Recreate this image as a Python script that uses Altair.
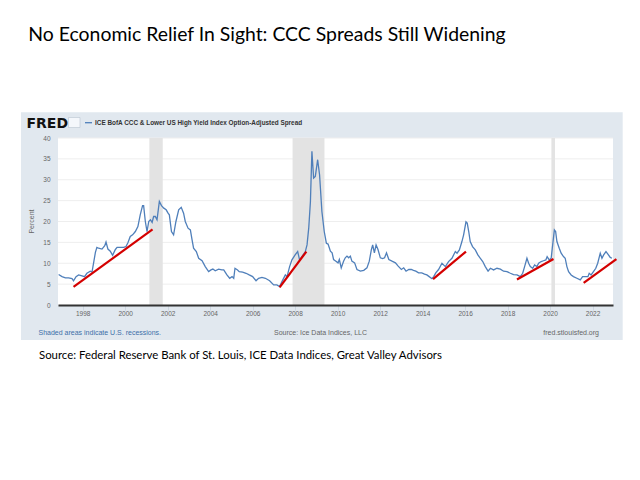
import altair as alt
import pandas as pd

# ---- data (decimal year, percent) ----
years = [1996.87, 1997.03, 1997.19, 1997.34, 1997.50, 1997.57, 1997.69, 1997.81, 1997.97, 1998.09,
         1998.20, 1998.36, 1998.44, 1998.52, 1998.60, 1998.67, 1998.75, 1998.91, 1999.04, 1999.10,
         1999.19, 1999.30, 1999.41, 1999.54, 1999.62, 1999.77, 1999.93, 2000.04, 2000.13, 2000.24,
         2000.35, 2000.48, 2000.60, 2000.71, 2000.82, 2000.87, 2000.95, 2001.03, 2001.11, 2001.19,
         2001.27, 2001.34, 2001.42, 2001.50, 2001.61, 2001.71, 2001.82, 2001.93, 2002.02, 2002.08,
         2002.18, 2002.28, 2002.39, 2002.52, 2002.64, 2002.75, 2002.83, 2002.96, 2003.07, 2003.15,
         2003.22, 2003.35, 2003.46, 2003.62, 2003.77, 2003.93, 2004.04, 2004.13, 2004.24, 2004.40,
         2004.55, 2004.64, 2004.79, 2004.92, 2005.03, 2005.11, 2005.17, 2005.29, 2005.37, 2005.53,
         2005.69, 2005.84, 2006.00, 2006.16, 2006.28, 2006.44, 2006.60, 2006.80, 2006.99, 2007.14,
         2007.27, 2007.38, 2007.54, 2007.62, 2007.74, 2007.85, 2008.00, 2008.12, 2008.21, 2008.32,
         2008.48, 2008.56, 2008.64, 2008.72, 2008.79, 2008.87, 2008.95, 2009.06, 2009.15, 2009.26,
         2009.37, 2009.47, 2009.55, 2009.66, 2009.74, 2009.81, 2009.92, 2010.02, 2010.08, 2010.17,
         2010.28, 2010.36, 2010.44, 2010.52, 2010.60, 2010.67, 2010.80, 2010.91, 2011.07, 2011.23,
         2011.38, 2011.49, 2011.59, 2011.65, 2011.73, 2011.81, 2011.90, 2012.01, 2012.12, 2012.21,
         2012.30, 2012.41, 2012.56, 2012.72, 2012.85, 2013.00, 2013.11, 2013.22, 2013.35, 2013.47,
         2013.57, 2013.68, 2013.81, 2013.96, 2014.09, 2014.20, 2014.31, 2014.44, 2014.52, 2014.62,
         2014.75, 2014.91, 2015.07, 2015.22, 2015.38, 2015.54, 2015.62, 2015.73, 2015.85, 2015.93,
         2016.04, 2016.10, 2016.17, 2016.24, 2016.35, 2016.48, 2016.60, 2016.71, 2016.83, 2016.95,
         2017.08, 2017.19, 2017.34, 2017.50, 2017.66, 2017.81, 2017.97, 2018.13, 2018.28, 2018.44,
         2018.60, 2018.71, 2018.80, 2018.91, 2018.99, 2019.07, 2019.18, 2019.27, 2019.38, 2019.46,
         2019.58, 2019.69, 2019.80, 2019.86, 2019.96, 2020.05, 2020.20, 2020.26, 2020.32, 2020.43,
         2020.52, 2020.63, 2020.71, 2020.79, 2020.87, 2020.99, 2021.10, 2021.26, 2021.42, 2021.53,
         2021.65, 2021.78, 2021.84, 2021.93, 2022.04, 2022.15, 2022.24, 2022.36, 2022.44, 2022.52,
         2022.63, 2022.72, 2022.83, 2022.91]
spread = [7.3, 6.8, 6.5, 6.5, 6.3, 5.8, 6.8, 7.2, 7.0, 6.8,
          7.6, 8.1, 7.9, 10.2, 12.6, 13.8, 13.6, 13.4, 14.2, 15.1,
          13.4, 12.9, 11.9, 13.3, 13.8, 13.8, 13.8, 14.0, 14.9, 16.4,
          16.8, 17.6, 18.8, 21.6, 23.8, 23.8, 20.0, 17.6, 20.0, 20.4,
          19.8, 21.2, 21.2, 20.4, 24.8, 23.8, 23.2, 22.8, 22.0, 21.6,
          17.6, 16.8, 20.0, 22.8, 23.4, 22.0, 20.0, 18.4, 18.0, 15.6,
          13.6, 12.8, 11.2, 10.6, 9.2, 8.0, 8.4, 8.6, 8.2, 8.6,
          8.4, 8.4, 7.2, 6.4, 6.8, 6.4, 8.8, 8.4, 8.0, 7.9,
          7.6, 7.2, 6.8, 5.8, 6.4, 6.6, 6.4, 5.8, 4.8, 4.8,
          4.4, 5.6, 7.2, 6.8, 9.2, 10.8, 12.0, 12.8, 10.8, 11.6,
          12.8, 14.4, 18.4, 24.8, 36.8, 30.4, 30.8, 34.8, 31.2, 22.4,
          17.6, 14.8, 14.6, 12.9, 12.5, 10.9, 10.5, 10.1, 10.9, 8.9,
          10.5, 11.3, 11.7, 11.3, 11.7, 10.5, 10.1, 8.5, 8.1, 8.3,
          8.9, 10.5, 13.3, 14.4, 12.5, 14.4, 13.3, 11.3, 11.1, 11.3,
          12.5, 10.9, 10.5, 10.1, 9.3, 8.5, 8.9, 8.1, 8.5, 8.5,
          8.3, 8.1, 7.7, 7.7, 7.4, 7.2, 6.8, 6.3, 6.8, 7.7,
          8.5, 10.0, 9.2, 10.4, 11.2, 12.8, 12.4, 13.2, 15.2, 16.8,
          19.9, 19.6, 17.6, 15.2, 14.0, 13.2, 12.0, 11.2, 10.4, 9.2,
          8.1, 8.8, 8.4, 8.8, 8.6, 8.1, 8.0, 7.6, 7.3, 7.2,
          6.8, 7.6, 9.2, 11.2, 10.0, 9.2, 8.8, 9.6, 9.2, 10.0,
          10.4, 10.6, 10.8, 11.6, 10.8, 11.2, 18.0, 17.6, 15.2, 13.6,
          12.4, 11.6, 11.2, 9.2, 8.0, 7.2, 6.8, 6.4, 6.0, 6.8,
          6.8, 6.8, 7.6, 7.2, 8.0, 8.8, 10.0, 12.4, 11.2, 12.0,
          12.8, 12.2, 11.4, 11.2]

recession_start = [2001.14, 2007.88, 2020.06]
recession_end = [2001.77, 2009.38, 2020.23]

trend_id = [1, 1, 2, 2, 3, 3, 4, 4, 5, 5]
trend_year = [1997.57, 2001.29, 2007.27, 2008.53, 2014.49, 2016.04, 2018.44, 2020.16, 2021.58, 2023.12]
trend_value = [4.35, 18.1, 4.2, 12.8, 6.2, 12.8, 6.1, 11.0, 5.3, 11.0]

x_ticks = [1998, 2000, 2002, 2004, 2006, 2008, 2010, 2012, 2014, 2016, 2018, 2020, 2022]
y_ticks = [0, 5, 10, 15, 20, 25, 30, 35, 40]
grid_values = [5, 10, 15, 20, 25, 30, 35, 40]

title_text = "No Economic Relief In Sight: CCC Spreads Still Widening"
source_text = "Source: Federal Reserve Bank of St. Louis, ICE Data Indices, Great Valley Advisors"
series_name = "ICE BofA CCC & Lower US High Yield Index Option-Adjusted Spread"

series_df = pd.DataFrame({"year": years, "value": spread})
rec_df = pd.DataFrame({"start": recession_start, "end": recession_end})
trend_df = pd.DataFrame({"seg": trend_id, "year": trend_year, "value": trend_value})
grid_df = pd.DataFrame({"value": grid_values})
one = pd.DataFrame({"a": [0]})

W, H = 555, 167
FRED_FONT = "Liberation Sans"
SLIDE_FONT = "Lato"

xscale = alt.Scale(domain=[1996.84, 2022.96], nice=False, zero=False)
yscale = alt.Scale(domain=[0, 40], nice=False)
xaxis = alt.Axis(values=x_ticks, format="d", title=None, labelFontSize=6.5, labelColor="#666666",
                 labelFont=FRED_FONT, domainColor="#333333", domainWidth=2, ticks=True, tickSize=5,
                 tickColor="#ccd6e0", labelPadding=0, grid=False, zindex=1, labelFlush=False)
yaxis = alt.Axis(values=y_ticks, title=None, labelFontSize=6.5, labelColor="#666666",
                 labelFont=FRED_FONT, domain=False, ticks=False, labelPadding=8, grid=False, zindex=1)


def X(field, **kw):
    return alt.X(field, type="quantitative", scale=xscale, axis=xaxis, **kw)


def Y(field, **kw):
    return alt.Y(field, type="quantitative", scale=yscale, axis=yaxis, **kw)


def text(t, x, y, size, color, font, weight="normal", align="left", baseline="alphabetic", angle=0):
    return alt.Chart(one).mark_text(
        text=t, fontSize=size, color=color, font=font, fontWeight=weight,
        align=align, baseline=baseline, angle=angle
    ).encode(x=alt.value(x), y=alt.value(y))


panel = alt.Chart(one).mark_rect(color="#e1e8ef").encode(
    x=alt.value(-37), x2=alt.value(564.7), y=alt.value(-25.7), y2=alt.value(202))
plot_bg = alt.Chart(one).mark_rect(color="white").encode(
    x=alt.value(0), x2=alt.value(W), y=alt.value(0), y2=alt.value(H))
grid = alt.Chart(grid_df).mark_rule(color="#eeeeee", strokeWidth=1).encode(
    y=Y("value"), x=alt.value(0), x2=alt.value(W))
recessions = alt.Chart(rec_df).mark_rect(color="#e3e3e3").encode(
    x=X("start"), x2="end", y=alt.value(0), y2=alt.value(H))
line = alt.Chart(series_df).mark_line(color="#4f7fba", strokeWidth=1.3).encode(
    x=X("year"), y=Y("value"), order="year:Q")
trend = alt.Chart(trend_df).mark_line(color="#d40000", strokeWidth=2.2).encode(
    x=X("year"), y=Y("value"), detail="seg:N")

icon = alt.Chart(one).mark_rect(fill="#f4f7fb", stroke="#b8c4d0", strokeWidth=0.6).encode(
    x=alt.value(10.5), x2=alt.value(22), y=alt.value(-20.5), y2=alt.value(-10.5))
legend_dash = alt.Chart(one).mark_rule(color="#4f7fba", strokeWidth=1.3).encode(
    x=alt.value(27), x2=alt.value(34), y=alt.value(-15.3))

texts = [
    text(title_text, -29.7, -97.3, 19.4, "#000000", SLIDE_FONT),
    text(source_text, -19, 220.7, 11.4, "#000000", SLIDE_FONT),
    text("FRED", -31.5, -10.2, 14, "#111111", "DejaVu Sans", weight=900),
    text(series_name, 37, -13, 6.4, "#333333", FRED_FONT, weight="bold"),
    text("Percent", -26.3, H / 2, 7, "#666666", FRED_FONT, align="center", baseline="middle", angle=270),
    text("Shaded areas indicate U.S. recessions.", -19.5, 196.5, 7, "#3d6fa8", FRED_FONT),
    text("Source: Ice Data Indices, LLC", 216, 196.5, 7, "#666666", FRED_FONT),
    text("fred.stlouisfed.org", 541, 196.5, 7, "#666666", FRED_FONT, align="right"),
]

chart = alt.layer(
    panel, plot_bg, grid, recessions, line, trend, icon, legend_dash, *texts
).properties(
    width=W, height=H,
    autosize=alt.AutoSizeParams(type="none"),
    padding={"left": 50, "top": 130, "right": 19, "bottom": 167},
    background="white",
).configure_view(stroke=None)

chart.save("out.html", embed_options={"renderer": "svg", "actions": False})
